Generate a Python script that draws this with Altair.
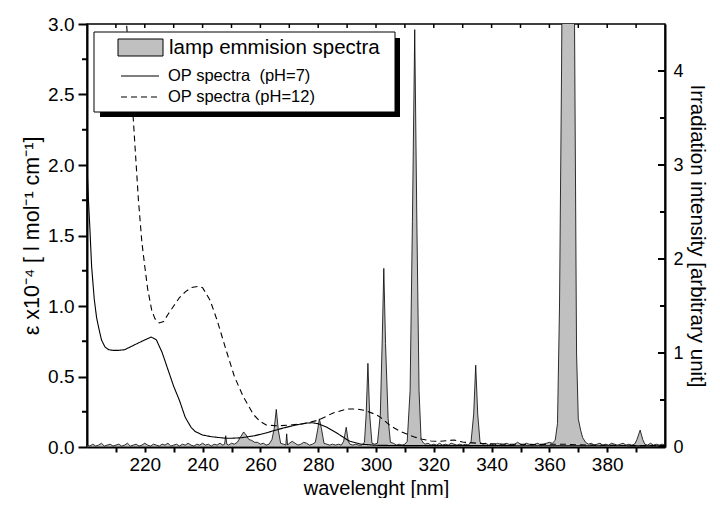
import altair as alt
import pandas as pd

FONT = "Liberation Sans"

# OP spectra, pH = 7 (solid)  -- epsilon x1e-4
wl_ph7 = [200, 200.5, 201, 201.6, 202.5, 203.3, 204, 205, 206.2, 207.5, 209, 210.7, 213, 216, 219,
          222.2, 224, 226, 228, 230, 232, 234, 236, 237.4, 240, 243, 248, 250, 253.6, 258, 262,
          264.5, 268, 272, 276, 278, 280, 283, 286, 289, 291, 295, 300, 310, 330, 360, 400]
eps_ph7 = [2.0, 1.75, 1.55, 1.28, 1.05, 0.92, 0.85, 0.76, 0.71, 0.69, 0.685, 0.685, 0.69, 0.72, 0.75,
           0.78, 0.76, 0.67, 0.55, 0.43, 0.33, 0.21, 0.14, 0.11, 0.085, 0.073, 0.062, 0.062, 0.066, 0.08, 0.10,
           0.115, 0.135, 0.155, 0.17, 0.172, 0.165, 0.14, 0.105, 0.065, 0.04, 0.02, 0.012, 0.01, 0.01, 0.009, 0.008]

# OP spectra, pH = 12 (dashed)
wl_ph12 = [213, 216, 217.8, 219, 220, 221, 222.4, 223.5, 225, 226.5, 228, 230, 232, 234, 236, 238.6,
           240, 242.6, 245, 248.4, 251, 254, 257.6, 260, 262, 266, 270, 275, 280, 285, 290, 293, 296,
           300, 301.6, 305, 308.5, 313, 316, 319, 322, 325, 327, 330, 336, 345, 355, 365, 370, 380, 390, 400]
eps_ph12 = [3.2, 2.33, 1.75, 1.45, 1.28, 1.12, 0.97, 0.91, 0.88, 0.89, 0.94, 1.00, 1.06, 1.10, 1.13, 1.14,
            1.13, 1.04, 0.90, 0.67, 0.50, 0.36, 0.23, 0.18, 0.156, 0.15, 0.155, 0.165, 0.19, 0.24, 0.27, 0.27, 0.26,
            0.23, 0.21, 0.15, 0.11, 0.073, 0.055, 0.043, 0.04, 0.045, 0.05, 0.035, 0.025, 0.02, 0.018, 0.02, 0.015, 0.012, 0.01, 0.01]

# lamp emission spectrum (arbitrary units): (wavelength, intensity)
emission = [
    (200, 0.02), (201, 0.01), (202, 0.03), (203, 0.01), (204, 0.02), (205, 0.04), (206, 0.01), (207, 0.02),
    (208, 0.03), (209, 0.01), (210, 0.02), (211, 0.03), (212, 0.01), (213, 0.02), (214, 0.04), (215, 0.01),
    (216, 0.02), (217, 0.03), (218, 0.01), (219, 0.02), (220, 0.04), (221, 0.02), (222, 0.01), (223, 0.03),
    (224, 0.02), (225, 0.01), (226, 0.03), (227, 0.02), (228, 0.04), (229, 0.01), (230, 0.02), (231, 0.03),
    (232, 0.01), (233, 0.03), (234, 0.02), (235, 0.04), (236, 0.02), (237, 0.01), (238, 0.03), (239, 0.02),
    (240, 0.04), (241, 0.02), (242, 0.03), (243, 0.01), (244, 0.03), (245, 0.02), (246, 0.04), (247, 0.02),
    (247.6, 0.03), (248, 0.12), (248.4, 0.03), (249, 0.02), (250, 0.04), (251, 0.03), (252, 0.05), (253, 0.10),
    (254.2, 0.16), (255, 0.13), (256, 0.08), (257, 0.07), (258, 0.05), (259, 0.05), (260, 0.03), (261, 0.04),
    (262, 0.02), (263, 0.03), (264, 0.08), (264.8, 0.20), (265.5, 0.40), (266.2, 0.18), (267, 0.04), (268, 0.03),
    (268.8, 0.02), (269.1, 0.14), (269.4, 0.02), (270, 0.04), (271, 0.06), (272, 0.04), (273, 0.02), (274, 0.03),
    (275, 0.05), (276, 0.04), (277, 0.02), (278, 0.03), (279, 0.05), (279.8, 0.18), (280.4, 0.30), (281.1, 0.20),
    (282, 0.04), (283, 0.03), (284, 0.02), (285, 0.03), (286, 0.02), (287, 0.03), (288, 0.02), (288.8, 0.06),
    (289.7, 0.21), (290.4, 0.06), (291, 0.03), (292, 0.02), (293, 0.03), (294, 0.02), (295, 0.02), (296, 0.05),
    (296.6, 0.35), (297.2, 0.89), (297.8, 0.35), (298.6, 0.04), (299.5, 0.03), (300.5, 0.04), (301.5, 0.35),
    (302.2, 1.2), (302.7, 1.90), (303.3, 1.1), (304.2, 0.3), (305, 0.05), (306, 0.04), (307, 0.02), (308, 0.03),
    (309, 0.02), (310, 0.03), (310.8, 0.06), (311.8, 0.6), (312.6, 2.4), (313.4, 4.44), (314.1, 2.5), (314.9, 0.6),
    (315.6, 0.08), (316.5, 0.04), (317, 0.03), (318, 0.04), (319, 0.02), (320, 0.03), (321, 0.02), (322, 0.04),
    (323, 0.02), (324, 0.03), (325, 0.02), (326, 0.04), (327, 0.03), (328, 0.02), (329, 0.03), (330, 0.02),
    (331, 0.03), (332, 0.02), (332.9, 0.06), (333.8, 0.35), (334.5, 0.87), (335.2, 0.35), (336, 0.05), (337, 0.03),
    (338, 0.04), (339, 0.02), (340, 0.03), (341, 0.02), (342, 0.04), (343, 0.03), (344, 0.02), (345, 0.04),
    (346, 0.03), (347, 0.02), (348, 0.03), (349, 0.05), (350, 0.03), (351, 0.02), (352, 0.04), (353, 0.03),
    (354, 0.02), (355, 0.03), (356, 0.04), (357, 0.02), (358, 0.03), (359, 0.04), (360, 0.05), (361, 0.04),
    (362, 0.07), (362.8, 0.25), (363.5, 1.5), (364.2, 4.0), (365, 8.0), (366.5, 12.0), (368, 8.0), (368.8, 4.0),
    (369.4, 1.0), (370, 0.3), (370.8, 0.18), (371.5, 0.10), (372.5, 0.05), (373.5, 0.03), (374.5, 0.04),
    (375.5, 0.02), (376.5, 0.03), (377.5, 0.04), (378.5, 0.02), (379.5, 0.03), (380.5, 0.02), (381.5, 0.04),
    (382.5, 0.03), (383.5, 0.02), (384.5, 0.03), (385.5, 0.04), (386.5, 0.02), (387.5, 0.03), (388.5, 0.02),
    (389.5, 0.03), (390.3, 0.08), (391.4, 0.18), (392.3, 0.08), (393, 0.03), (394, 0.02), (395, 0.04),
    (396, 0.02), (397, 0.03), (398, 0.02), (399, 0.03), (400, 0.02),
]

x_tick_values = [210, 220, 230, 240, 250, 260, 270, 280, 290, 300, 310, 320, 330, 340, 350, 360, 370, 380, 390]
left_major = [0, 0.5, 1.0, 1.5, 2.0, 2.5, 3.0]
left_minor = [0.25, 0.75, 1.25, 1.75, 2.25, 2.75]
right_major = [0, 1, 2, 3, 4]
right_minor = [0.5, 1.5, 2.5, 3.5]
legend_labels = ["lamp emmision spectra", "OP spectra \u00a0(pH=7)", "OP spectra (pH=12)"]
series_names = ["pH=7", "pH=12"]

W, H = 578, 423

xscale = alt.Scale(domain=[200, 400], nice=False, zero=False)
xaxis = alt.Axis(
    values=x_tick_values, format="d",
    labelExpr="datum.value % 20 == 0 ? datum.label : ''",
    tickSize=5, labelFontSize=19, labelPadding=3, title="wavelenght [nm]", titleFontSize=20,
    titlePadding=4, domainWidth=2, tickWidth=2,
)
rscale = alt.Scale(domain=[0, 4.5], nice=False, zero=True)
lscale = alt.Scale(domain=[0, 3.0], nice=False, zero=True)
raxis = alt.Axis(
    orient="right", values=right_major, format="d", tickSize=1, tickOpacity=0,
    labelPadding=7, labelFontSize=18, domainWidth=2,
    title="Irradiation intensity [arbitrary unit]", titleFontSize=20.5, titlePadding=3)
laxis = alt.Axis(
    orient="left", values=left_major, format=".1f", tickSize=9,
    labelFontSize=19, labelPadding=4, domainWidth=2, tickWidth=2,
    title="ε x10⁻⁴ [ l mol⁻¹ cm⁻¹]", titleFontSize=21.5, titlePadding=4)

emis_df = pd.DataFrame(emission, columns=["wl", "I"])
emis = alt.Chart(emis_df).mark_area(
    clip=True, fill="#c0c0c0", stroke="black", strokeWidth=0.8
).encode(
    x=alt.X("wl:Q", scale=xscale, axis=xaxis),
    y=alt.Y("I:Q", scale=rscale, axis=raxis),
)

rt_major = alt.Chart(pd.DataFrame({"I": right_major})).mark_rule(color="black", strokeWidth=2).encode(
    y=alt.Y("I:Q", scale=rscale, axis=raxis), x=alt.value(W - 7), x2=alt.value(W))
rt_minor = alt.Chart(pd.DataFrame({"I": right_minor})).mark_rule(color="black", strokeWidth=2).encode(
    y=alt.Y("I:Q", scale=rscale, axis=raxis), x=alt.value(W - 5), x2=alt.value(W))

right_layer = alt.layer(emis, rt_major, rt_minor)

lines_df = pd.concat([
    pd.DataFrame({"wl": wl_ph7, "eps": eps_ph7, "series": series_names[0]}),
    pd.DataFrame({"wl": wl_ph12, "eps": eps_ph12, "series": series_names[1]}),
])
lines = alt.Chart(lines_df).mark_line(clip=True, color="black", strokeWidth=1.1).encode(
    x=alt.X("wl:Q", scale=xscale, axis=xaxis),
    y=alt.Y("eps:Q", scale=lscale, axis=laxis),
    strokeDash=alt.StrokeDash("series:N", scale=alt.Scale(domain=series_names, range=[[1, 0], [6, 4]]), legend=None),
)
lt_minor = alt.Chart(pd.DataFrame({"eps": left_minor})).mark_rule(color="black", strokeWidth=2).encode(
    y=alt.Y("eps:Q", scale=lscale, axis=laxis), x=alt.value(-5), x2=alt.value(0))

left_layer = alt.layer(lines, lt_minor)

top_ticks = alt.Chart(pd.DataFrame({"wl": x_tick_values})).mark_rule(color="black", strokeWidth=1.5).encode(
    x=alt.X("wl:Q", scale=xscale, axis=xaxis), y=alt.value(0), y2=alt.value(4))

one = pd.DataFrame({"k": [0]})
shadow = alt.Chart(one).mark_rect(color="black").encode(
    x=alt.value(13), x2=alt.value(313), y=alt.value(14), y2=alt.value(93))
box = alt.Chart(one).mark_rect(fill="white", stroke="black", strokeWidth=1).encode(
    x=alt.value(7), x2=alt.value(308), y=alt.value(8), y2=alt.value(88))
swatch = alt.Chart(one).mark_rect(fill="#c0c0c0", stroke="black", strokeWidth=1).encode(
    x=alt.value(31), x2=alt.value(76), y=alt.value(15), y2=alt.value(32))
l1 = alt.Chart(one).mark_rule(color="black", strokeWidth=1.2).encode(
    x=alt.value(34), x2=alt.value(72), y=alt.value(52))
l2 = alt.Chart(one).mark_rule(color="black", strokeWidth=1.2, strokeDash=[6, 4]).encode(
    x=alt.value(34), x2=alt.value(72), y=alt.value(73))
t1 = alt.Chart(one).mark_text(align="left", baseline="middle", font=FONT, fontSize=20.5, color="black").encode(
    x=alt.value(82), y=alt.value(24), text=alt.value(legend_labels[0]))
t2 = alt.Chart(one).mark_text(align="left", baseline="middle", font=FONT, fontSize=16.5, color="black").encode(
    x=alt.value(81), y=alt.value(52), text=alt.value(legend_labels[1]))
t3 = alt.Chart(one).mark_text(align="left", baseline="middle", font=FONT, fontSize=16.5, color="black").encode(
    x=alt.value(81), y=alt.value(73), text=alt.value(legend_labels[2]))

chart = alt.layer(
    right_layer, left_layer, top_ticks, shadow, box, swatch, l1, l2, t1, t2, t3
).resolve_scale(y="independent").properties(
    width=W, height=H,
    autosize=alt.AutoSizeParams(type="none"),
    padding={"left": 79, "top": 16, "right": 47, "bottom": 51},
).configure_axis(
    labelFont=FONT, titleFont=FONT, labelColor="black", titleColor="black",
    domainColor="black", tickColor="black", grid=False, titleFontWeight="normal",
).configure_view(stroke="black", strokeWidth=1.5)

chart.save("out.html", embed_options={"renderer": "svg", "actions": False})
